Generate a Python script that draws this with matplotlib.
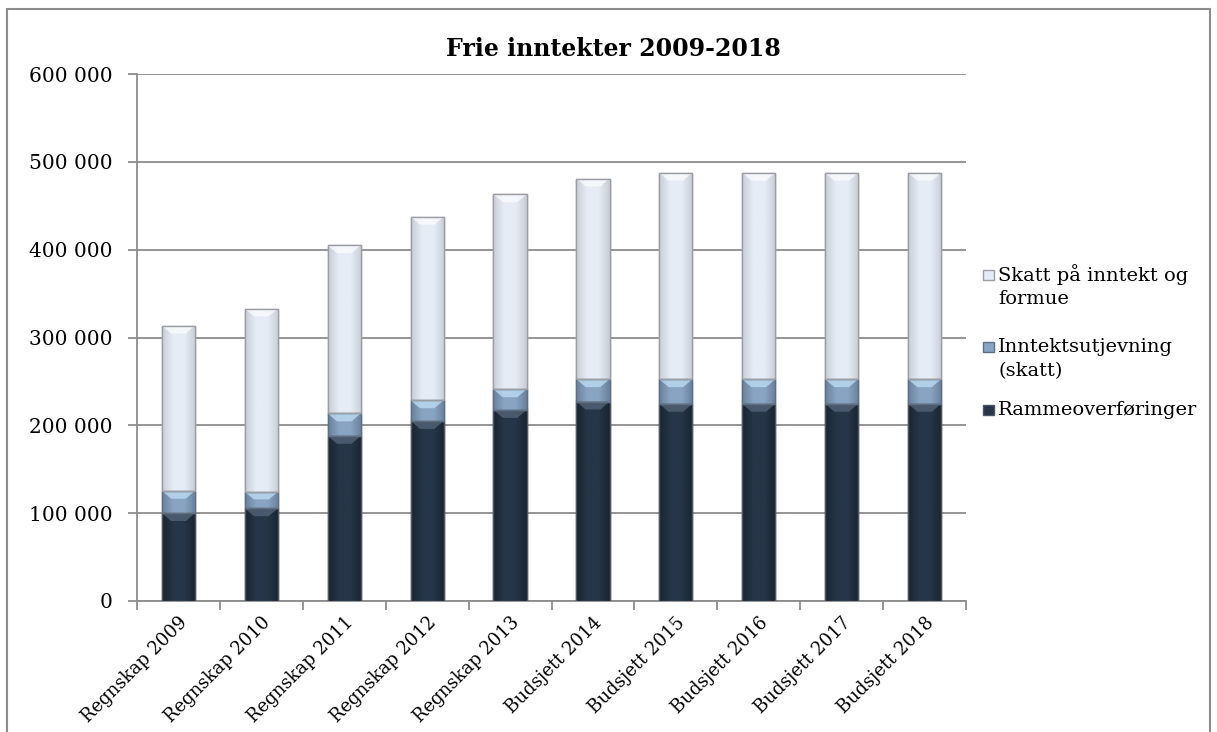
import matplotlib
matplotlib.use('Agg')
import matplotlib.pyplot as plt
from matplotlib.patches import Rectangle, Polygon
from matplotlib.colors import LinearSegmentedColormap
import numpy as np

# data
kategorier = ['Regnskap 2009', 'Regnskap 2010', 'Regnskap 2011', 'Regnskap 2012', 'Regnskap 2013',
              'Budsjett 2014', 'Budsjett 2015', 'Budsjett 2016', 'Budsjett 2017', 'Budsjett 2018']
ramme = [100000, 105500, 188000, 205000, 217500, 227000, 224500, 224500, 224500, 224500]
utjevning = [25500, 18500, 25500, 23500, 23500, 25500, 28000, 28000, 28000, 28000]
skatt = [188000, 209000, 191500, 209000, 222000, 228500, 235000, 235000, 235000, 235000]

plt.rcParams['font.family'] = ['DejaVu Serif']

W, H = 1217, 732
fig = plt.figure(figsize=(W / 100, H / 100), dpi=100)
ax = fig.add_axes([137 / W, 1 - 601 / H, 829 / W, 527 / H])

# ytre ramme
fig.patches.append(Rectangle((7 / W, -0.05), 1203 / W, 1 - 9 / H + 0.05,
                             transform=fig.transFigure, fill=False, edgecolor='#8c8c8c', linewidth=1.5))

x = np.arange(len(kategorier))
w = 0.4
bunn2 = np.array(ramme)
bunn3 = bunn2 + np.array(utjevning)

# (senter, kant, skrå topp, linje)
stil = {
    'ramme': ('#263648', '#1a2430', '#56667a', '#4c5663'),
    'utj': ('#89a4c2', '#6a819c', '#bfe0f6', '#5f6f80'),
    'skatt': ('#e6ecf6', '#c9ced6', '#fbfcfe', '#9a9ea4'),
}

def tegn(verdier, bunn, navn):
    senter, kant, lys, linje = stil[navn]
    cmap = LinearSegmentedColormap.from_list(navn, [kant, senter, senter, kant])
    bars = ax.bar(x, verdier, w, bottom=bunn, color=senter, edgecolor=linje, linewidth=1, zorder=3)
    grad = np.linspace(0, 1, 64).reshape(1, -1)
    hb = 9000
    for b, v, p in zip(bunn, verdier, bars):
        x0 = p.get_x()
        im = ax.imshow(grad, extent=(x0, x0 + w, b, b + v), cmap=cmap, aspect='auto',
                       zorder=3.1, origin='lower')
        im.set_clip_path(p)
        t = b + v
        h = min(hb, v * 0.45)
        ax.add_patch(Polygon([(x0, t), (x0 + w, t), (x0 + w * 0.72, t - h), (x0 + w * 0.28, t - h)],
                             closed=True, facecolor=lys, edgecolor='none', alpha=0.75, zorder=3.2))
        ax.add_patch(Rectangle((x0, b), w, v, fill=False, edgecolor=linje, linewidth=1, zorder=3.3))

tegn(ramme, np.zeros(len(x)), 'ramme')
tegn(utjevning, bunn2, 'utj')
tegn(skatt, bunn3, 'skatt')

ax.set_xlim(-0.5, len(kategorier) - 0.5)
ax.set_ylim(0, 600000)
ax.set_yticks(np.arange(0, 600001, 100000))
ax.set_yticklabels([f'{v:,}'.replace(',', ' ') for v in range(0, 600001, 100000)], fontsize=14.5)
ax.yaxis.grid(True, color='#8c8c8c', linewidth=1.3, zorder=0)
ax.set_axisbelow(True)

ax.set_xticks(x)
ax.set_xticklabels(kategorier, rotation=45, ha='right', va='top', rotation_mode='anchor', fontsize=13)
ax.set_xticks(np.arange(-0.5, len(kategorier)), minor=True)
ax.tick_params(axis='x', which='major', length=0, pad=9)
ax.tick_params(axis='x', which='minor', length=6.5, color='#8c8c8c', width=1.3)
ax.tick_params(axis='y', length=6.5, color='#8c8c8c', width=1.3, pad=11)

for s in ['top', 'right']:
    ax.spines[s].set_visible(False)
for s in ['left', 'bottom']:
    ax.spines[s].set_color('#8c8c8c')
    ax.spines[s].set_linewidth(1.3)

fig.text(0.504, 1 - 49 / H, 'Frie inntekter 2009-2018', fontsize=17, fontweight='bold',
         ha='center', va='center')

# forklaring (første linje på høyde med markøren, som i Excel)
forklaring = [
    ('skatt', ['Skatt på inntekt og', 'formue'], 275),
    ('utj', ['Inntektsutjevning', '(skatt)'], 347),
    ('ramme', ['Rammeoverføringer'], 410),
]
for navn, linjer, ypx in forklaring:
    senter, kant, lys, linje = stil[navn]
    fig.patches.append(Rectangle((983 / W, 1 - (ypx + 5) / H), 11 / W, 10 / H,
                                 transform=fig.transFigure, facecolor=senter, edgecolor=linje,
                                 linewidth=1))
    for k, tekst in enumerate(linjer):
        fig.text(998 / W, 1 - (ypx + 24 * k) / H, tekst, fontsize=14, ha='left', va='center')

fig.savefig('out.png', dpi=100)
